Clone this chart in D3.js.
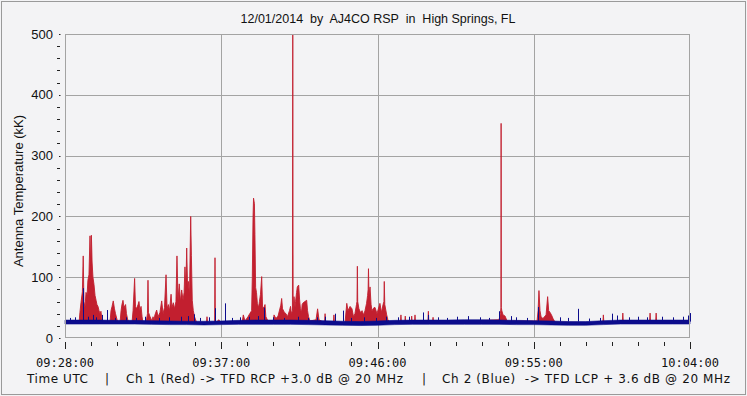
<!DOCTYPE html>
<html>
<head>
<meta charset="utf-8">
<script src="https://cdn.jsdelivr.net/npm/d3@7"></script>
<style>
  body { margin: 0; background: #f3f3f5; }
  svg { display: block; }
  text { white-space: pre; fill: #111; }
</style>
</head>
<body>
<div id="chart"></div>
<script>
// minutes after 09:28:00 UTC
const tickMinutes = [0, 9, 18, 27, 36];
const tickLabels = ["09:28:00", "09:37:00", "09:46:00", "09:55:00", "10:04:00"];
const yTicks = [0, 100, 200, 300, 400, 500];

// Ch 1 (red) — [minute, kK]
const redSeries = [
  [0, 25], [0.81, 25], [0.86, 42], [0.92, 58], [1.00, 76], [1.05, 135], [1.09, 60], [1.15, 50],
  [1.21, 75], [1.27, 70], [1.32, 95], [1.38, 104], [1.44, 168], [1.48, 120], [1.52, 169], [1.56, 125],
  [1.61, 100], [1.67, 88], [1.73, 70], [1.79, 62], [1.84, 55], [1.90, 52], [1.96, 45], [2.02, 40],
  [2.07, 44], [2.13, 30], [2.19, 25],
  [2.59, 25], [2.65, 45], [2.71, 52], [2.78, 61], [2.85, 48], [2.91, 40], [3.00, 30], [3.05, 25],
  [3.17, 25], [3.23, 45], [3.28, 55], [3.34, 62], [3.40, 50], [3.49, 55], [3.54, 40], [3.63, 28],
  [3.86, 25], [3.92, 45], [4.01, 98], [4.06, 52], [4.12, 48], [4.21, 55], [4.26, 60], [4.32, 45],
  [4.38, 52], [4.44, 35], [4.49, 25],
  [4.67, 25], [4.75, 40], [4.78, 95], [4.81, 42], [4.90, 35], [5.01, 28],
  [5.07, 35], [5.13, 30], [5.18, 38], [5.28, 46], [5.36, 35], [5.47, 42], [5.57, 61], [5.65, 40],
  [5.73, 50], [5.82, 104], [5.88, 48], [5.95, 55], [6.02, 45], [6.11, 72], [6.16, 50], [6.24, 58],
  [6.31, 48], [6.39, 60], [6.45, 135], [6.51, 62], [6.58, 89], [6.65, 60], [6.72, 79], [6.80, 62],
  [6.86, 75], [6.91, 117], [6.96, 80], [7.01, 148], [7.06, 84], [7.11, 93], [7.17, 70], [7.24, 200],
  [7.28, 136], [7.33, 62], [7.39, 45], [7.46, 35], [7.55, 28], [7.60, 25],
  [8.15, 25], [8.18, 35], [8.21, 25],
  [8.62, 25], [8.64, 132], [8.66, 25], [8.87, 30], [8.95, 25],
  [10.20, 25], [10.27, 38], [10.37, 28], [10.54, 35], [10.64, 40], [10.75, 45], [10.79, 101],
  [10.83, 198], [10.86, 230], [10.91, 221], [10.94, 170], [10.98, 83], [11.03, 75], [11.08, 57],
  [11.15, 50], [11.20, 60], [11.26, 72], [11.33, 101], [11.38, 50], [11.46, 50], [11.52, 55],
  [11.57, 35], [11.69, 28],
  [11.98, 25], [12.04, 38], [12.15, 32], [12.27, 36], [12.43, 54], [12.48, 65], [12.53, 48],
  [12.64, 42], [12.73, 40], [12.81, 35], [12.93, 45], [12.99, 52], [13.04, 40], [13.10, 45], [13.12, 500],
  [13.14, 45], [13.19, 68], [13.25, 50], [13.28, 60], [13.34, 75], [13.38, 84], [13.46, 87],
  [13.51, 64], [13.56, 48], [13.62, 42], [13.66, 55], [13.72, 58], [13.82, 60], [13.92, 62],
  [13.97, 45], [14.03, 35], [14.11, 28],
  [14.46, 30], [14.55, 48], [14.63, 30], [14.95, 25], [14.98, 40], [15.01, 25],
  [15.46, 25], [15.49, 38], [15.52, 25],
  [16.13, 25], [16.23, 57], [16.30, 45], [16.42, 52], [16.53, 48], [16.62, 35], [16.70, 40],
  [16.79, 55], [16.82, 60], [16.84, 118], [16.86, 60], [16.93, 48], [17.02, 42], [17.11, 45], [17.20, 38],
  [17.28, 45], [17.37, 57], [17.43, 70], [17.46, 80], [17.48, 114], [17.51, 70], [17.57, 84], [17.63, 55],
  [17.68, 45], [17.80, 50], [17.86, 50], [17.97, 40], [18.14, 57], [18.23, 42], [18.32, 55],
  [18.37, 60], [18.39, 93], [18.42, 55], [18.53, 38], [18.60, 30], [18.72, 25],
  [19.32, 25], [19.35, 38], [19.38, 25], [19.57, 25], [19.60, 36], [19.63, 25],
  [19.94, 25], [19.97, 36], [20.00, 25], [20.13, 25], [20.16, 38], [20.19, 25],
  [20.90, 25], [20.93, 44], [20.96, 25], [21.17, 25], [21.20, 34], [21.23, 25],
  [25.00, 30], [25.08, 40], [25.11, 50], [25.12, 353], [25.13, 50], [25.16, 45], [25.23, 38], [25.35, 36], [25.46, 28],
  [27.19, 28], [27.25, 45], [27.30, 78], [27.36, 45], [27.42, 35], [27.53, 32], [27.71, 38],
  [27.80, 68], [27.86, 45], [27.94, 42], [28.02, 38], [28.11, 32], [28.23, 26],
  [30.98, 25], [31.01, 38], [31.04, 25], [32.10, 25], [32.13, 41], [32.16, 25],
  [33.67, 25], [33.70, 41], [33.73, 25], [34.02, 25], [34.05, 41], [34.08, 25],
  [36, 25]
];

// Ch 2 (blue) noise band, one value per minute
const blueMinutes = d3.range(0, 37);
const blueLow = [23, 23, 23, 23, 23, 22.5, 22, 22, 21.5, 22, 22.5, 22.5, 22.5, 22.5, 22, 21.5, 21, 20.5, 21,
  22, 22.5, 22.5, 22.5, 22.5, 22.5, 22.5, 22, 22, 21.5, 21, 21, 22, 23, 23, 23, 23, 23];
const blueHigh = [29.5, 29.5, 29.5, 29, 29, 28.5, 28, 27.5, 27.5, 28, 29, 29.5, 29.5, 29.5, 29, 28.5, 27.5, 27, 28,
  29, 29.5, 29.5, 29.5, 30, 30, 29.5, 29, 28.5, 28, 27, 27, 28.5, 29.5, 29.5, 29.5, 29.5, 29.5];

// Ch 2 (blue) spikes — [minute, kK]
const blueSpikes = [
  [1.01, 82], [1.60, 38], [2.11, 38], [2.44, 46], [7.43, 39], [8.66, 49], [9.24, 57], [11.48, 50],
  [15.55, 40], [16.03, 45], [20.60, 42], [20.90, 38], [23.23, 36], [25.02, 44], [25.69, 36],
  [27.26, 51], [29.57, 48], [31.49, 40], [31.82, 37], [35.90, 37], [36.0, 41],
  [0.3, 33], [0.6, 34], [1.3, 35], [1.8, 34], [2.9, 33], [3.5, 34], [4.1, 33], [4.6, 35], [5.4, 33],
  [6.0, 34], [6.7, 35], [7.1, 36], [7.8, 33], [8.3, 34], [9.6, 33], [10.1, 34], [10.6, 35], [11.1, 36],
  [12.0, 34], [12.6, 33], [13.4, 35], [14.0, 33], [14.5, 34], [15.0, 35], [16.5, 33], [17.2, 34],
  [17.9, 33], [18.5, 35], [19.2, 34], [19.8, 35], [21.5, 34], [22.0, 33], [22.6, 35], [23.9, 34],
  [24.4, 33], [26.0, 34], [26.6, 33], [28.5, 34], [29.0, 33], [30.2, 32], [30.8, 33], [32.5, 34],
  [33.0, 35], [33.5, 34], [34.4, 35], [35.0, 34], [35.6, 35]
];

const W = 747, H = 396;
const gridColor = "#a3a3a3", red = "#c21f2f", blue = "#0c0c8c";

const svg = d3.select("#chart").append("svg")
  .attr("width", W).attr("height", H);

// outer frame
svg.append("rect").attr("x", 1.5).attr("y", 1.5).attr("width", W - 3).attr("height", H - 3)
  .attr("fill", "#f3f3f5").attr("stroke", "#9a9a9a");

const x = d3.scaleLinear().domain([0, 36]).range([65, 690]);
const y = d3.scaleLinear().domain([0, 500]).range([338, 34]);

// gridlines
svg.append("g").selectAll("line").data(yTicks.slice(1, -1)).join("line")
  .attr("x1", 65).attr("x2", 690)
  .attr("y1", d => Math.round(y(d)) + 0.5).attr("y2", d => Math.round(y(d)) + 0.5)
  .attr("stroke", gridColor);
svg.append("g").selectAll("line").data(tickMinutes.slice(1, -1)).join("line")
  .attr("y1", 34).attr("y2", 338)
  .attr("x1", d => Math.round(x(d)) + 0.5).attr("x2", d => Math.round(x(d)) + 0.5)
  .attr("stroke", gridColor);

// red channel
const plot = svg.append("g");
plot.append("path").datum(redSeries)
  .attr("fill", red)
  .attr("stroke", red).attr("stroke-width", 0.9)
  .attr("d", d3.area().x(d => x(d[0])).y0(y(25)).y1(d => y(d[1])));

// blue channel
plot.append("path")
  .datum(blueMinutes.map((m, i) => [m, blueLow[i], blueHigh[i]]))
  .attr("fill", blue).attr("stroke", blue).attr("stroke-width", 0.6)
  .attr("d", d3.area().x(d => x(d[0])).y0(d => y(d[1])).y1(d => y(d[2])));
plot.selectAll(".bspike").data(blueSpikes).join("line")
  .attr("x1", d => Math.round(x(d[0])) + 0.5).attr("x2", d => Math.round(x(d[0])) + 0.5)
  .attr("y1", y(27)).attr("y2", d => y(d[1]))
  .attr("stroke", blue).attr("stroke-width", 1);

// plot border
svg.append("rect").attr("x", 65.5).attr("y", 34.5).attr("width", 624).attr("height", 303)
  .attr("fill", "none").attr("stroke", gridColor);

// y axis: dot ticks, dash minor ticks, labels
svg.append("g").selectAll("rect").data(d3.range(0, 501, 20)).join("rect")
  .attr("x", d => d % 100 === 0 ? 59 : 57)
  .attr("width", d => d % 100 === 0 ? 1.5 : 3)
  .attr("y", d => Math.round(y(d)))
  .attr("height", 1)
  .attr("fill", "#222");
svg.append("g").selectAll("text").data(yTicks).join("text")
  .attr("x", 53).attr("y", d => y(d) + 4.5)
  .attr("text-anchor", "end")
  .style("font-family", "Liberation Sans, Arial, sans-serif").style("font-size", "13px")
  .text(d => d);

// x axis ticks and labels
svg.append("g").selectAll("line").data(d3.range(0, 36.01, 1.5)).join("line")
  .attr("x1", d => Math.round(x(d)) + 0.5).attr("x2", d => Math.round(x(d)) + 0.5)
  .attr("y1", 342).attr("y2", d => d % 9 === 0 ? 349 : 346)
  .attr("stroke", "#222");
svg.append("g").selectAll("text").data(tickMinutes).join("text")
  .attr("x", d => x(d)).attr("y", 367)
  .attr("text-anchor", "middle")
  .style("font-family", "DejaVu Sans Mono, monospace").style("font-size", "12px")
  .text((d, i) => tickLabels[i]);

// title
svg.append("text").attr("x", 378).attr("y", 23).attr("text-anchor", "middle")
  .style("font-family", "Liberation Sans, Arial, sans-serif").style("font-size", "12.5px")
  .text("12/01/2014  by  AJ4CO RSP  in  High Springs, FL");

// y label
svg.append("text").attr("transform", "translate(22.5,191) rotate(-90)")
  .attr("text-anchor", "middle")
  .style("font-family", "Liberation Sans, Arial, sans-serif").style("font-size", "13px")
  .text("Antenna Temperature (kK)");

// footer
const foot = [
  { s: "Time UTC", x0: 27, len: 61 },
  { s: "|", x0: 105, len: 0 },
  { s: "Ch 1 (Red) -> TFD RCP +3.0 dB @ 20 MHz", x0: 126, len: 277 },
  { s: "|", x0: 422, len: 0 },
  { s: "Ch 2 (Blue)  -> TFD LCP + 3.6 dB @ 20 MHz", x0: 442, len: 288 }
];
svg.append("g").selectAll("text").data(foot).join("text")
  .attr("x", d => d.x0).attr("y", 383)
  .attr("textLength", d => d.len || null)
  .attr("lengthAdjust", "spacing")
  .style("font-family", "DejaVu Sans, Verdana, sans-serif").style("font-size", "12px")
  .text(d => d.s);
</script>
</body>
</html>
